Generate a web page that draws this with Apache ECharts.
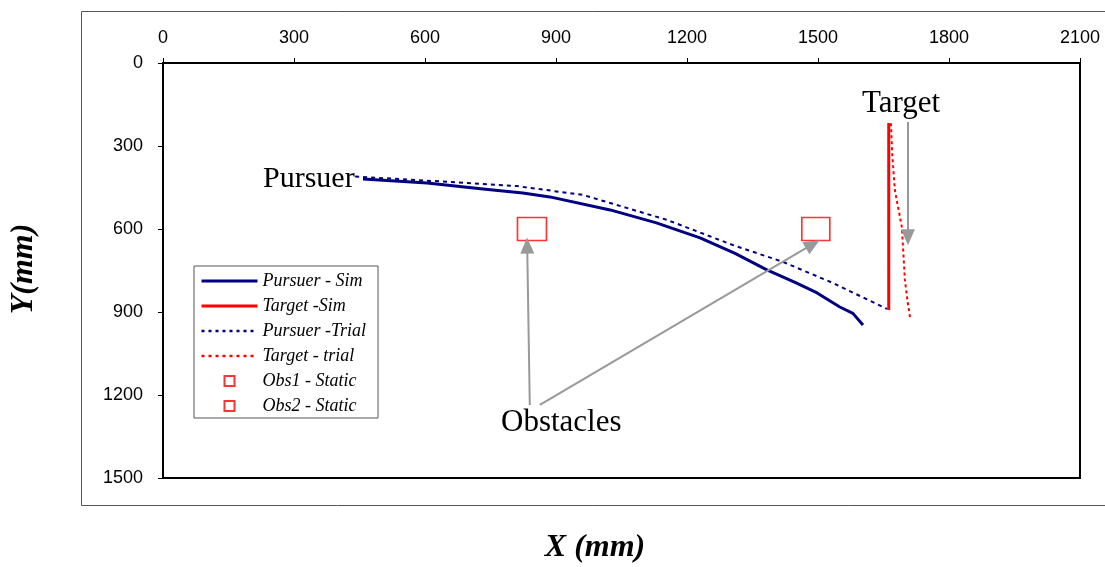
<!DOCTYPE html>
<html>
<head>
<meta charset="utf-8">
<script src="https://cdn.jsdelivr.net/npm/echarts@6/dist/echarts.min.js"></script>
<style>
  html,body{margin:0;padding:0;background:#fff;}
  #chart{width:1105px;height:567px;}
</style>
</head>
<body>
<div id="chart"></div>
<script>
// axis settings
const xTicks = [0, 300, 600, 900, 1200, 1500, 1800, 2100];
const yTicks = [0, 300, 600, 900, 1200, 1500];

// trajectories [x, y] in mm
const pursuerSim = [
  [458, 419], [605, 434], [733, 455], [824, 470], [886, 484], [1024, 531],
  [1130, 578], [1230, 632], [1310, 688], [1383, 748], [1450, 795], [1498, 831],
  [1550, 882], [1580, 905], [1603, 947]
];
const targetSim = [[1662, 217], [1662, 893]];
const pursuerTrial = [
  [440, 410], [458, 412], [657, 430], [811, 445], [962, 477], [1024, 506],
  [1154, 567], [1305, 658], [1420, 719], [1534, 795], [1658, 889]
];
const targetTrial = [
  [1667, 218], [1670, 330], [1676, 459], [1692, 593], [1699, 784], [1705, 860], [1711, 922]
];
const obs1 = [[845, 600]];
const obs2 = [[1495, 600]];

const serif = 'Liberation Serif, Times New Roman, serif';
const sans = 'Liberation Sans, Arial, sans-serif';
// small square in the middle of a wide legend icon
const obsIcon = 'path://M0,0M56,14M23,2h10v10h-10Z';
const noDot = {opacity: 0};

const chart = echarts.init(document.getElementById('chart'));

const option = {
  animation: false,
  backgroundColor: '#fff',
  grid: {
    left: 163, top: 63, width: 917, height: 415,
    show: true, borderColor: '#000', borderWidth: 2, backgroundColor: 'transparent'
  },
  xAxis: {
    type: 'value', position: 'top', min: 0, max: 2100, interval: 300,
    axisLine: {show: true, lineStyle: {color: '#000', width: 2}},
    axisTick: {show: true, length: 5, lineStyle: {color: '#000'}},
    axisLabel: {color: '#000', fontSize: 18, margin: 16, fontFamily: sans,
      formatter: v => String(v)},
    splitLine: {show: false}
  },
  yAxis: {
    type: 'value', inverse: true, min: 0, max: 1500, interval: 300,
    axisLine: {show: true, lineStyle: {color: '#000', width: 2}},
    axisTick: {show: true, length: 5, lineStyle: {color: '#000'}},
    axisLabel: {color: '#000', fontSize: 18, margin: 20, fontFamily: sans,
      formatter: v => String(v)},
    splitLine: {show: false}
  },
  legend: {
    orient: 'vertical', left: 194, top: 266,
    padding: [6, 12, 3, 6], itemGap: 7, itemWidth: 56, itemHeight: 14,
    borderColor: '#555', borderWidth: 1, backgroundColor: '#fff',
    textStyle: {fontFamily: serif, fontStyle: 'italic', fontSize: 18, color: '#000'},
    data: [
      {name: 'Pursuer - Sim', itemStyle: noDot, lineStyle: {width: 3}},
      {name: 'Target -Sim', itemStyle: noDot, lineStyle: {width: 3}},
      {name: 'Pursuer -Trial', itemStyle: noDot, lineStyle: {width: 2.5, type: [3, 4]}},
      {name: 'Target - trial', itemStyle: noDot, lineStyle: {width: 2.5, type: [3, 4]}},
      {name: 'Obs1 - Static', icon: obsIcon},
      {name: 'Obs2 - Static', icon: obsIcon}
    ]
  },
  series: [
    {name: 'Pursuer - Sim', type: 'line', data: pursuerSim, showSymbol: false, symbol: 'none',
     lineStyle: {color: '#000080', width: 3}, itemStyle: {color: '#000080'}},
    {name: 'Target -Sim', type: 'line', data: targetSim, showSymbol: false, symbol: 'none',
     lineStyle: {color: '#ff0000', width: 3}, itemStyle: {color: '#ff0000'}},
    {name: 'Pursuer -Trial', type: 'line', data: pursuerTrial, showSymbol: false, symbol: 'none',
     lineStyle: {color: '#000080', width: 2, type: [4, 4]}, itemStyle: {color: '#000080'}},
    {name: 'Target - trial', type: 'line', data: targetTrial, showSymbol: false, symbol: 'none',
     lineStyle: {color: '#ff0000', width: 2, type: [3, 3]}, itemStyle: {color: '#ff0000'}},
    {name: 'Obs1 - Static', type: 'scatter', data: obs1, symbol: 'rect', symbolSize: [29, 23],
     itemStyle: {color: '#fff', borderColor: '#ff0000', borderWidth: 1.5}},
    {name: 'Obs2 - Static', type: 'scatter', data: obs2, symbol: 'rect', symbolSize: [28, 23],
     itemStyle: {color: '#fff', borderColor: '#ff0000', borderWidth: 1.5},
     markLine: {
       silent: true, symbol: ['none', 'triangle'], symbolSize: [14, 16],
       label: {show: false},
       lineStyle: {color: '#999', width: 2, type: 'solid'},
       data: [
         [{coord: [840, 1236]}, {coord: [834, 660]}],
         [{coord: [863, 1236]}, {coord: [1488, 655]}],
         [{coord: [1706, 213]}, {coord: [1706, 630]}]
       ]
     }}
  ],
  graphic: [
    {type: 'rect', left: 79, top: 9, shape: {width: 1040, height: 494},
     style: {fill: null, stroke: '#555', lineWidth: 1}, silent: true, z: -1},
    {type: 'text', left: 263, top: 164,
     style: {text: 'Pursuer', font: '30px ' + serif, fill: '#000'}},
    {type: 'text', left: 862, top: 88,
     style: {text: 'Target', font: '31px ' + serif, fill: '#000'}},
    {type: 'text', left: 501, top: 407,
     style: {text: 'Obstacles', font: '31px ' + serif, fill: '#000'}},
    {type: 'text', x: 595, y: 548,
     style: {text: 'X (mm)', font: 'italic bold 32px ' + serif, fill: '#000',
       align: 'center', verticalAlign: 'middle'}},
    {type: 'text', x: 24, y: 269, rotation: Math.PI / 2,
     style: {text: 'Y(mm)', font: 'italic bold 32px ' + serif, fill: '#000',
       align: 'center', verticalAlign: 'middle'}}
  ]
};

chart.setOption(option);
</script>
</body>
</html>
